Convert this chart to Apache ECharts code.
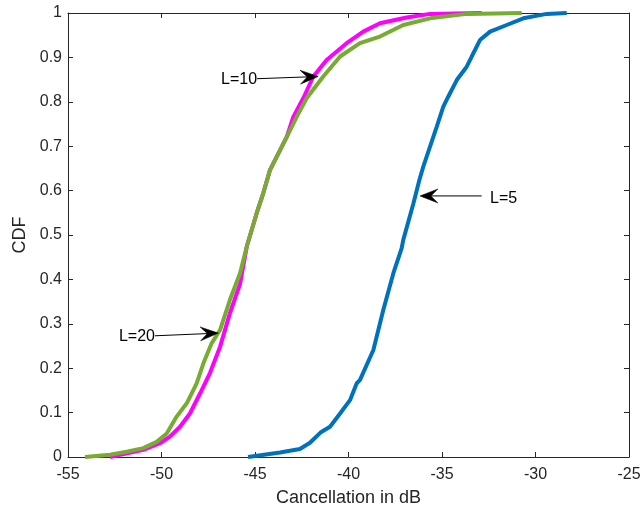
<!DOCTYPE html>
<html>
<head>
<meta charset="utf-8">
<script src="https://cdn.jsdelivr.net/npm/echarts@6/dist/echarts.min.js"></script>
<style>
  html, body { margin: 0; padding: 0; background: #ffffff; }
  #chart { width: 644px; height: 510px; }
</style>
</head>
<body>
<div id="chart"></div>
<script>
// Axis ranges and ticks
const xMin = -55, xMax = -25, xStep = 5;
const yMin = 0, yMax = 1, yStep = 0.1;

// Empirical CDF of cancellation (dB) for filter length L = 5
const l5X = [-45.37, -43.66, -42.6, -42.06, -41.5, -40.99, -40.45, -39.92, -39.56, -39.39,
  -38.67, -38.14, -37.6, -37.16, -37.07, -36.53, -36.21, -36.0, -35.64, -35.28, -34.93,
  -34.66, -34.21, -33.68, -33.41, -32.97, -32.43, -31.54, -30.65, -29.4, -28.33];
const l5Y = [0, 0.01, 0.018, 0.032, 0.055, 0.068, 0.098, 0.128, 0.166, 0.173,
  0.241, 0.331, 0.414, 0.47, 0.489, 0.571, 0.624, 0.654, 0.699, 0.744, 0.789,
  0.812, 0.849, 0.879, 0.902, 0.939, 0.958, 0.973, 0.988, 0.998, 1.0];

// Empirical CDF for L = 10
const l10X = [-52.75, -50.97, -50.08, -49.55, -49.01, -48.48, -47.94, -47.41, -46.87, -46.34,
  -45.8, -45.44, -44.91, -44.56, -44.2, -43.66, -43.3, -42.95, -42.42, -41.88, -41.17,
  -40.1, -39.21, -38.32, -36.89, -35.64, -32.88];
const l10Y = [0, 0.016, 0.031, 0.046, 0.068, 0.098, 0.143, 0.189, 0.248, 0.324,
  0.39, 0.474, 0.549, 0.594, 0.646, 0.691, 0.721, 0.766, 0.808, 0.857, 0.894,
  0.932, 0.958, 0.977, 0.99, 0.998, 1.0];

// Empirical CDF for L = 20
const l20X = [-54.09, -52.75, -51.86, -50.97, -50.26, -49.72, -49.19, -48.65, -48.12, -47.76,
  -47.32, -46.87, -46.34, -45.8, -45.44, -44.91, -44.56, -44.2, -43.66, -43.3, -42.77,
  -42.24, -41.35, -40.45, -39.39, -38.32, -37.07, -35.64, -33.68, -30.74];
const l20Y = [0, 0.005, 0.012, 0.02, 0.034, 0.053, 0.091, 0.121, 0.166, 0.211,
  0.256, 0.286, 0.354, 0.414, 0.474, 0.549, 0.594, 0.646, 0.691, 0.721, 0.766,
  0.808, 0.857, 0.902, 0.932, 0.947, 0.973, 0.988, 0.998, 1.0];

// Text-arrow annotations (data coordinates)
const noteText  = ['L=10', 'L=20', 'L=5'];
const noteFromX = [-44.89, -50.35, -32.88];
const noteFromY = [0.852, 0.273, 0.588];
const noteTipX  = [-41.62, -46.96, -36.18];
const noteTipY  = [0.857, 0.279, 0.588];
const noteTextX = [-44.89, -50.35, -32.43];
const noteTextY = [0.849, 0.271, 0.583];

const pairs = (xs, ys) => xs.map((x, i) => [x, ys[i]]);
const noteData = noteText.map((_, i) =>
  [noteFromX[i], noteFromY[i], noteTipX[i], noteTipY[i], noteTextX[i], noteTextY[i]]);

const axisColor = '#262626';
const fontFamily = '"Liberation Sans", Arial, Helvetica, sans-serif';

// Draws a line with a notched arrowhead at the tip, plus its text label
function renderNote(params, api) {
  const i = params.dataIndex;
  const p0 = api.coord([api.value(0), api.value(1)]);
  const p1 = api.coord([api.value(2), api.value(3)]);
  const pt = api.coord([api.value(4), api.value(5)]);
  const dx = p1[0] - p0[0], dy = p1[1] - p0[1];
  const len = Math.hypot(dx, dy) || 1;
  const ux = dx / len, uy = dy / len;
  const nx = -uy, ny = ux;
  const headLen = 18, headHalf = 7, notchLen = 11;
  const back = [p1[0] - ux * headLen, p1[1] - uy * headLen];
  const notch = [p1[0] - ux * notchLen, p1[1] - uy * notchLen];
  const textOnLeft = pt[0] < p1[0];
  return {
    type: 'group',
    children: [
      {
        type: 'line',
        shape: { x1: p0[0], y1: p0[1], x2: notch[0], y2: notch[1] },
        style: { stroke: '#000000', lineWidth: 1 }
      },
      {
        type: 'polygon',
        shape: {
          points: [
            p1,
            [back[0] + nx * headHalf, back[1] + ny * headHalf],
            notch,
            [back[0] - nx * headHalf, back[1] - ny * headHalf]
          ]
        },
        style: { fill: '#000000', stroke: '#000000', lineWidth: 0.5 }
      },
      {
        type: 'text',
        x: pt[0],
        y: pt[1],
        style: {
          text: noteText[i],
          fill: '#000000',
          fontSize: 16,
          fontFamily: fontFamily,
          align: textOnLeft ? 'right' : 'left',
          verticalAlign: 'middle'
        }
      }
    ]
  };
}

function curve(name, data, color) {
  return {
    name: name,
    type: 'line',
    data: data,
    showSymbol: false,
    symbol: 'none',
    smooth: false,
    animation: false,
    lineStyle: { color: color, width: 4 },
    itemStyle: { color: color }
  };
}

const hiddenAxisCommon = {
  axisLine: { show: true, onZero: false, lineStyle: { color: axisColor, width: 1 } },
  axisTick: { show: true, inside: true, length: 5, lineStyle: { color: axisColor } },
  axisLabel: { show: false },
  splitLine: { show: false }
};

const chart = echarts.init(document.getElementById('chart'), null, { renderer: 'canvas' });
chart.setOption({
  backgroundColor: '#ffffff',
  animation: false,
  grid: { left: 68, right: 15, top: 13, bottom: 53, containLabel: false, outerBoundsMode: 'none' },
  xAxis: [
    {
      type: 'value', min: xMin, max: xMax, interval: xStep, position: 'bottom',
      name: 'Cancellation in dB', nameLocation: 'middle', nameGap: 32,
      nameTextStyle: { color: axisColor, fontSize: 18, fontFamily: fontFamily },
      axisLine: { show: true, onZero: false, lineStyle: { color: axisColor, width: 1 } },
      axisTick: { show: true, inside: true, length: 5, lineStyle: { color: axisColor } },
      axisLabel: { color: axisColor, fontSize: 16, fontFamily: fontFamily, margin: 10 },
      splitLine: { show: false }
    },
    Object.assign({ type: 'value', min: xMin, max: xMax, interval: xStep, position: 'top' }, hiddenAxisCommon)
  ],
  yAxis: [
    {
      type: 'value', min: yMin, max: yMax, interval: yStep, position: 'left',
      name: 'CDF', nameLocation: 'middle', nameGap: 39,
      nameTextStyle: { color: axisColor, fontSize: 18, fontFamily: fontFamily },
      axisLine: { show: true, onZero: false, lineStyle: { color: axisColor, width: 1 } },
      axisTick: { show: true, inside: true, length: 5, lineStyle: { color: axisColor } },
      axisLabel: { color: axisColor, fontSize: 16, fontFamily: fontFamily, margin: 6 },
      splitLine: { show: false }
    },
    Object.assign({ type: 'value', min: yMin, max: yMax, interval: yStep, position: 'right' }, hiddenAxisCommon)
  ],
  series: [
    curve('L=5', pairs(l5X, l5Y), '#0072BD'),
    curve('L=10', pairs(l10X, l10Y), '#FF00FF'),
    curve('L=20', pairs(l20X, l20Y), '#77AC30'),
    {
      name: 'notes',
      type: 'custom',
      coordinateSystem: 'cartesian2d',
      renderItem: renderNote,
      data: noteData,
      encode: { x: [0, 2, 4], y: [1, 3, 5] },
      clip: false,
      silent: true,
      animation: false,
      z: 5
    }
  ]
});
</script>
</body>
</html>
